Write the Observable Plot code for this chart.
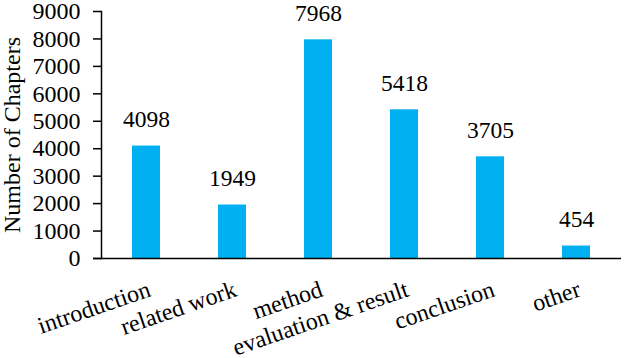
<!DOCTYPE html>
<html><head><meta charset="utf-8">
<script src="https://cdn.jsdelivr.net/npm/d3@7"></script>
<script src="https://cdn.jsdelivr.net/npm/@observablehq/plot@0.6"></script>
<style>body{margin:0;background:#fff}</style>
</head><body><div id="chart"></div>
<script>
const categories = ["introduction","related work","method","evaluation & result","conclusion","other"];
const values = [4098,1949,7968,5418,3705,454];
const yTicks = [0,1000,2000,3000,4000,5000,6000,7000,8000,9000];
const yLabel = "Number of Chapters";

const data = categories.map((c,i)=>({cat:c, value:values[i]}));
const chart = Plot.plot({
  width: 640, height: 358,
  marginLeft: 101, marginRight: 19, marginTop: 11, marginBottom: 100,
  style: {fontFamily: "'Liberation Serif', 'Times New Roman', serif", fontSize: "23px", color: "black", background: "white", overflow: "visible"},
  x: {domain: categories, paddingInner: 0.674, paddingOuter: 0.337, align: 0.5},
  y: {domain: [0, 9000]},
  marks: [
    Plot.barY(data, {x: "cat", y: "value", fill: "#00B0F0"}),
    Plot.text(data, {x: "cat", y: "value", text: d => String(d.value), lineAnchor: "bottom", dy: -19, fontSize: 23.5, fill: "black"}),
    Plot.frame({anchor: "left", stroke: "black", strokeWidth: 1.5}),
    Plot.ruleY([0], {stroke: "black", strokeWidth: 1.5, insetLeft: -8}),
    Plot.axisY({ticks: yTicks, tickFormat: d => String(d), tickSize: 8, tickPadding: 13, fontSize: 23, strokeWidth: 1.5,
      label: yLabel, labelAnchor: "center", labelArrow: "none", labelOffset: 99, fontSize: 24}),
    Plot.axisX({tickSize: 0, tickRotate: -19, tickPadding: 30, dx: 3, fontSize: 24, label: null})
  ]
});
document.getElementById("chart").append(chart);
</script></body></html>
